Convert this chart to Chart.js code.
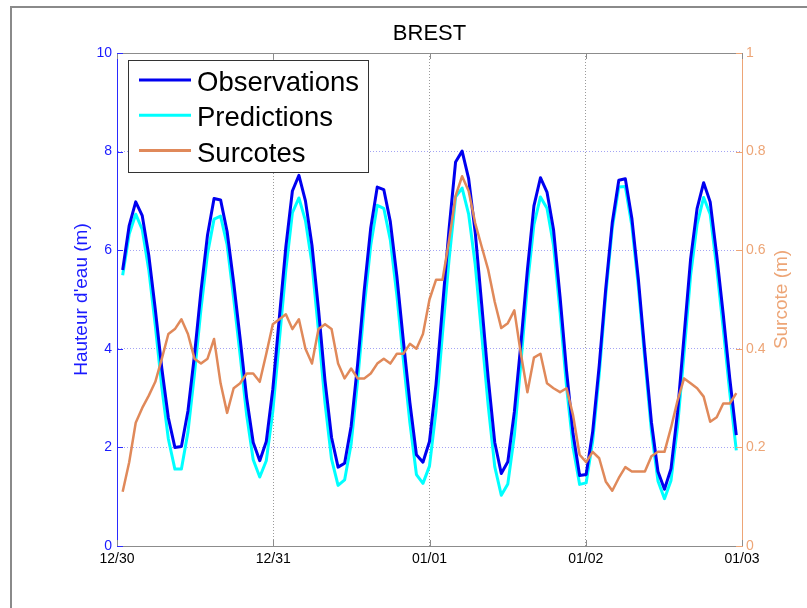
<!DOCTYPE html>
<html>
<head>
<meta charset="utf-8">
<title>BREST</title>
<script src="https://cdn.jsdelivr.net/npm/chart.js@4/dist/chart.umd.min.js"></script>
<style>
    html, body { margin: 0; padding: 0; background: #fff; }
    #wrap { width: 807px; height: 608px; }
</style>
</head>
<body>
<div id="wrap"><canvas id="chart" width="807" height="608"></canvas></div>
<script>
// Tick labels for the time axis (one per day)
const dayLabels = ['12/30', '12/31', '01/01', '01/02', '01/03'];

// Sampling: first sample a bit after 12/30 00:00, roughly hourly
const startHour = 0.87;
const stepHours = 1.0027;

// Hauteur d'eau (m)
const observations = [5.6, 6.5, 6.98, 6.7, 5.9, 4.8, 3.6, 2.6, 2.0, 2.02,
    2.74, 3.87, 5.18, 6.31, 7.05, 7.02, 6.38, 5.35, 4.2, 3.0,
    2.1, 1.73, 2.12, 3.18, 4.63, 6.07, 7.2, 7.52, 7.0, 6.1,
    4.8, 3.35, 2.2, 1.6, 1.68, 2.43, 3.7, 5.18, 6.45, 7.28,
    7.23, 6.58, 5.48, 4.16, 2.91, 1.85, 1.7, 2.12, 3.28, 4.86,
    6.43, 7.79, 8.01, 7.45, 6.37, 4.9, 3.4, 2.1, 1.47, 1.71,
    2.72, 4.1, 5.6, 6.9, 7.47, 7.18, 6.42, 5.06, 3.55, 2.27,
    1.43, 1.45, 2.32, 3.66, 5.22, 6.56, 7.42, 7.45, 6.65, 5.41,
    3.92, 2.51, 1.51, 1.15, 1.57, 2.71, 4.26, 5.82, 6.85, 7.37,
    6.98, 5.9, 4.7, 3.4, 2.25];

const predictions = [5.49, 6.33, 6.73, 6.42, 5.6, 4.47, 3.22, 2.17, 1.56, 1.56,
    2.31, 3.49, 4.81, 5.93, 6.63, 6.69, 6.11, 5.03, 3.87, 2.65,
    1.75, 1.4, 1.73, 2.73, 4.17, 5.6, 6.76, 7.06, 6.6, 5.73,
    4.36, 2.9, 1.76, 1.23, 1.34, 2.07, 3.36, 4.84, 6.1, 6.91,
    6.85, 6.21, 5.09, 3.77, 2.5, 1.45, 1.27, 1.62, 2.74, 4.32,
    5.81, 7.08, 7.26, 6.73, 5.72, 4.29, 2.84, 1.61, 1.03, 1.26,
    2.24, 3.71, 5.29, 6.52, 7.08, 6.85, 6.1, 4.75, 3.23, 2.0,
    1.25, 1.28, 2.13, 3.48, 5.09, 6.45, 7.28, 7.29, 6.5, 5.26,
    3.77, 2.33, 1.32, 0.96, 1.33, 2.42, 3.92, 5.49, 6.53, 7.07,
    6.73, 5.64, 4.41, 3.11, 1.94];

// Surcote (m), right axis
const surcotes = [0.11, 0.17, 0.25, 0.28, 0.305, 0.333, 0.38, 0.43, 0.44, 0.46,
    0.43, 0.38, 0.37, 0.38, 0.42, 0.33, 0.27, 0.32, 0.33, 0.35,
    0.35, 0.333, 0.39, 0.45, 0.46, 0.47, 0.44, 0.46, 0.40, 0.37,
    0.44, 0.45, 0.44, 0.37, 0.34, 0.36, 0.34, 0.34, 0.35, 0.37,
    0.38, 0.37, 0.39, 0.39, 0.41, 0.40, 0.43, 0.50, 0.54, 0.54,
    0.62, 0.71, 0.75, 0.72, 0.655, 0.607, 0.56, 0.495, 0.442, 0.452,
    0.478, 0.39, 0.312, 0.382, 0.39, 0.33, 0.32, 0.312, 0.32, 0.265,
    0.185, 0.17, 0.191, 0.178, 0.131, 0.112, 0.138, 0.16, 0.151, 0.151,
    0.151, 0.182, 0.191, 0.191, 0.24, 0.295, 0.34, 0.33, 0.32, 0.303,
    0.252, 0.261, 0.289, 0.289, 0.31];

// time of each sample, in days since 12/30
const times = observations.map((_, i) => (startHour + i * stepHours) / 24);
const toPoints = arr => arr.map((v, i) => ({ x: times[i], y: v }));

const FONT = "'Liberation Sans', Arial, Helvetica, sans-serif";
const blue = '#0000f0';
const cyan = '#00ffff';
const orange = '#e0895a';
const leftAxisColor = '#2a2aff';
const rightAxisColor = '#eda576';
const boxGray = '#8c8c8c';

Chart.defaults.font.family = FONT;

// Extra drawing: inward ticks, top border, titles, legend box, figure frame
const decorations = {
    id: 'decorations',
    afterDraw(chart) {
        const { ctx, chartArea: a, scales } = chart;
        const line = (x1, y1, x2, y2) => {
            ctx.beginPath();
            ctx.moveTo(x1, y1);
            ctx.lineTo(x2, y2);
            ctx.stroke();
        };
        ctx.save();
        ctx.lineWidth = 1;

        // top border of the box
        ctx.strokeStyle = boxGray;
        line(a.left, Math.round(a.top) + 0.5, a.right, Math.round(a.top) + 0.5);

        // day ticks, inward at bottom and top
        scales.x.ticks.forEach(t => {
            const px = Math.round(scales.x.getPixelForValue(t.value)) + 0.5;
            line(px, a.bottom, px, a.bottom - 6);
            line(px, a.top, px, a.top + 6);
        });

        // left axis ticks
        ctx.strokeStyle = leftAxisColor;
        scales.y.ticks.forEach(t => {
            const py = Math.round(scales.y.getPixelForValue(t.value)) + 0.5;
            line(a.left, py, a.left + 6, py);
        });

        // right axis ticks
        ctx.strokeStyle = rightAxisColor;
        scales.y1.ticks.forEach(t => {
            const py = Math.round(scales.y1.getPixelForValue(t.value)) + 0.5;
            line(a.right, py, a.right - 6, py);
        });

        // main title
        ctx.fillStyle = '#000';
        ctx.font = '22px ' + FONT;
        ctx.textAlign = 'center';
        ctx.textBaseline = 'alphabetic';
        ctx.fillText('BREST', (a.left + a.right) / 2, 40);

        // axis titles (both read bottom to top)
        const midY = (a.top + a.bottom) / 2;
        ctx.font = '19px ' + FONT;
        ctx.textBaseline = 'middle';
        ctx.save();
        ctx.translate(82, midY);
        ctx.rotate(-Math.PI / 2);
        ctx.fillStyle = '#1a1aff';
        ctx.fillText("Hauteur d'eau (m)", 0, 0);
        ctx.restore();
        ctx.save();
        ctx.translate(782, midY);
        ctx.rotate(-Math.PI / 2);
        ctx.fillStyle = rightAxisColor;
        ctx.fillText('Surcote (m)', 0, 0);
        ctx.restore();

        // legend
        const lx = 128.5, ly = 60.5, lw = 240, lh = 112;
        ctx.fillStyle = '#fff';
        ctx.fillRect(lx, ly, lw, lh);
        ctx.strokeStyle = '#333';
        ctx.strokeRect(lx, ly, lw, lh);
        ctx.font = '27.5px ' + FONT;
        ctx.textAlign = 'left';
        ctx.textBaseline = 'alphabetic';
        chart.data.datasets.forEach((ds, i) => {
            const yy = 80 + i * 35.3;
            ctx.strokeStyle = ds.borderColor;
            ctx.lineWidth = 3;
            line(139, yy, 191, yy);
            ctx.fillStyle = '#000';
            ctx.fillText(ds.label, 197, yy + 11);
        });

        // figure frame
        ctx.strokeStyle = '#8a8a8a';
        ctx.lineWidth = 2;
        ctx.strokeRect(11, 7, 900, 700);
        ctx.restore();
    }
};

new Chart(document.getElementById('chart'), {
    type: 'line',
    data: {
        datasets: [
            {
                label: 'Observations',
                data: toPoints(observations),
                borderColor: blue,
                borderWidth: 3,
                yAxisID: 'y',
                order: 1
            },
            {
                label: 'Predictions',
                data: toPoints(predictions),
                borderColor: cyan,
                borderWidth: 3,
                yAxisID: 'y',
                order: 2
            },
            {
                label: 'Surcotes',
                data: toPoints(surcotes),
                borderColor: orange,
                borderWidth: 2.5,
                yAxisID: 'y1',
                order: 0
            }
        ]
    },
    options: {
        responsive: false,
        animation: false,
        events: [],
        elements: {
            point: { radius: 0 },
            line: { tension: 0, fill: false, borderJoinStyle: 'round' }
        },
        layout: { padding: { top: 53, left: 0, right: 0, bottom: 0 } },
        plugins: {
            legend: { display: false },
            title: { display: false },
            tooltip: { enabled: false }
        },
        scales: {
            x: {
                type: 'linear',
                min: 0,
                max: 4,
                ticks: {
                    stepSize: 1,
                    color: '#000',
                    font: { size: 14 },
                    padding: 5,
                    maxRotation: 0,
                    callback: v => dayLabels[v]
                },
                grid: {
                    drawTicks: false,
                    color: ctx => (ctx.tick && (ctx.tick.value === 0 || ctx.tick.value === 4)) ? 'rgba(0,0,0,0)' : '#9a9a9a',
                    lineWidth: 1
                },
                border: { color: boxGray, width: 1, dash: [1, 2] },
                afterFit: s => { s.height = 62; }
            },
            y: {
                position: 'left',
                min: 0,
                max: 10,
                ticks: {
                    stepSize: 2,
                    color: '#1a1aff',
                    font: { size: 14 },
                    padding: 5
                },
                grid: {
                    drawTicks: false,
                    color: ctx => (ctx.tick && (ctx.tick.value === 0 || ctx.tick.value === 10)) ? 'rgba(0,0,0,0)' : '#a4a4f4',
                    lineWidth: 1
                },
                border: { color: leftAxisColor, width: 1, dash: [1, 2] },
                afterFit: s => { s.width = 117; }
            },
            y1: {
                position: 'right',
                min: 0,
                max: 1,
                ticks: {
                    stepSize: 0.2,
                    color: rightAxisColor,
                    font: { size: 14 },
                    padding: 4,
                    callback: v => String(Number(v.toFixed(1)))
                },
                grid: { display: false, drawTicks: false },
                border: { color: rightAxisColor, width: 1 },
                afterFit: s => { s.width = 65; }
            }
        }
    },
    plugins: [decorations]
});
</script>
</body>
</html>
